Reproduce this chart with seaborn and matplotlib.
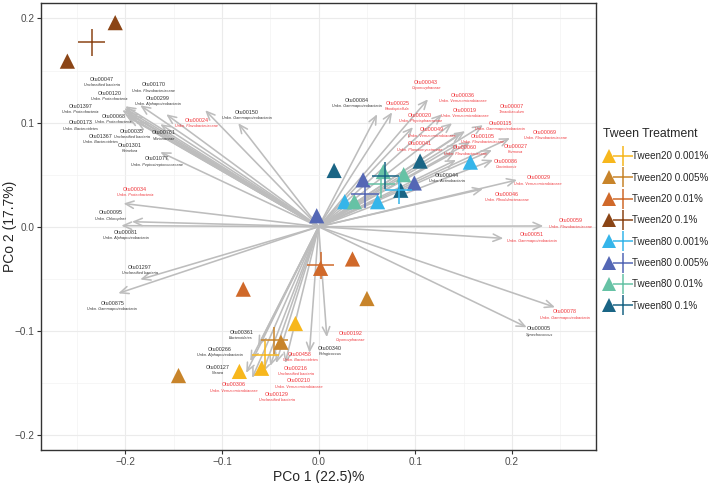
import matplotlib
matplotlib.use("Agg")
import matplotlib.pyplot as plt
from matplotlib.lines import Line2D
from matplotlib.legend_handler import HandlerTuple
from matplotlib.ticker import MultipleLocator
import seaborn as sns
import pandas as pd

# ---------------- data ----------------
groups = ["Tween20 0.001%", "Tween20 0.005%", "Tween20 0.01%", "Tween20 0.1%",
          "Tween80 0.001%", "Tween80 0.005%", "Tween80 0.01%", "Tween80 0.1%"]
group_colors = ["#F7B71D", "#C8842A", "#D0692A", "#8B4516",
                "#35B5EA", "#5467B5", "#66C2A5", "#1A6585"]

pt_group = ["Tween20 0.001%"] * 3 + ["Tween20 0.005%"] * 3 + ["Tween20 0.01%"] * 3 + \
           ["Tween20 0.1%"] * 2 + ["Tween80 0.001%"] * 3 + ["Tween80 0.005%"] * 3 + \
           ["Tween80 0.01%"] * 3 + ["Tween80 0.1%"] * 3
pt_x = [-0.024, -0.059, -0.082,
        -0.039, -0.145, 0.050,
        0.035, -0.078, 0.002,
        -0.2105, -0.260,
        0.027, 0.061, 0.157,
        0.046, 0.099, -0.002,
        0.067, 0.088, 0.037,
        0.016, 0.105, 0.085]
pt_y = [-0.093, -0.136, -0.139,
        -0.111, -0.143, -0.069,
        -0.031, -0.060, -0.040,
        0.196, 0.159,
        0.024, 0.024, 0.062,
        0.045, 0.042, 0.0105,
        0.053, 0.050, 0.024,
        0.054, 0.063, 0.035]

cen_x = [-0.055, -0.046, 0.002, -0.235, 0.083, 0.048, 0.065, 0.069]
cen_y = [-0.123, -0.109, -0.037, 0.177, 0.035, 0.031, 0.041, 0.049]

otu_ids = ["Otu00047", "Otu00170", "Otu00120", "Otu00299", "Otu01397", "Otu00150",
           "Otu00068", "Otu00024", "Otu00173", "Otu00035", "Otu00761", "Otu01367",
           "Otu01301", "Otu01077", "Otu00034", "Otu00095", "Otu00081", "Otu01297",
           "Otu00875",
           "Otu00043", "Otu00084", "Otu00025", "Otu00020", "Otu00049", "Otu00041",
           "Otu00044", "Otu00036", "Otu00019", "Otu00007", "Otu00115", "Otu00069",
           "Otu00105", "Otu00027", "Otu00060", "Otu00086", "Otu00029", "Otu00046",
           "Otu00059", "Otu00051", "Otu00078", "Otu00005",
           "Otu00192", "Otu00340", "Otu00458", "Otu00216", "Otu00210", "Otu00129",
           "Otu00306", "Otu00127", "Otu00266", "Otu00361"]
otu_taxa = ["Unclassified bacteria", "Unkn. Flavobacteriaceae", "Unkn. Proteobacteria",
            "Unkn. Alphaproteobacteria", "Unkn. Proteobacteria", "Unkn. Gammaproteobacteria",
            "Unkn. Proteobacteria", "Unkn. Flavobacteriaceae", "Unkn. Bacteroidetes",
            "Unclassified bacteria", "Vibrionaceae", "Unkn. Bacteroidetes",
            "Reinekea", "Unkn. Peptostreptococcaceae", "Unkn. Proteobacteria",
            "Unkn. Chloroplast", "Unkn. Alphaproteobacteria", "Unclassified bacteria",
            "Unkn. Gammaproteobacteria",
            "Cryomorphaceae", "Unkn. Gammaproteobacteria", "Rhodopirellula",
            "Unkn. Phycisphaeraceae", "Unkn. Verrucomicrobiaceae", "Unkn. Planctomycetaceae",
            "Unkn. Actinobacteria", "Unkn. Verrucomicrobiaceae", "Unkn. Verrucomicrobiaceae",
            "Tenacibaculum", "Unkn. Gammaproteobacteria", "Unkn. Flavobacteriaceae",
            "Unkn. Flavobacteriaceae", "Formosa", "Unkn. Flavobacteriaceae",
            "Crocinitomix", "Unkn. Verrucomicrobiaceae", "Unkn. Rhodobacteraceae",
            "Unkn. Flavobacteriaceae", "Unkn. Gammaproteobacteria",
            "Unkn. Gammaproteobacteria", "Synechococcus",
            "Cryomorphaceae", "Pelagicoccus", "Unkn. Bacteroidetes", "Unclassified bacteria",
            "Unkn. Verrucomicrobiaceae", "Unclassified bacteria", "Unkn. Verrucomicrobiaceae",
            "Nisaea", "Unkn. Alphaproteobacteria", "Bacteroidetes"]
otu_red = [0, 0, 0, 0, 0, 0, 0, 1, 0, 0, 0, 0, 0, 0, 1, 0, 0, 0, 0,
           1, 0, 1, 1, 1, 1, 0, 1, 1, 1, 1, 1, 1, 1, 1, 1, 1, 1, 1, 1, 1, 0,
           1, 0, 1, 1, 1, 1, 1, 0, 0, 0]
tip_x = [-0.2001, -0.1846, -0.2011, -0.1577, -0.2032, -0.0832, -0.1980, -0.1174,
         -0.2001, -0.1939, -0.1639, -0.1970, -0.1887, -0.1639, -0.2019, -0.2042,
         -0.1932, -0.1846, -0.2073,
         0.1132, 0.0605, 0.0760, 0.0977, 0.1474, 0.1443, 0.1422, 0.1277, 0.1381,
         0.1701, 0.1515, 0.1980, 0.1567, 0.1794, 0.1412, 0.1805, 0.2053, 0.1701,
         0.2325, 0.1911, 0.2446, 0.2153,
         0.0085, -0.0095, -0.0346, -0.0440, -0.0502, -0.0584, -0.0688, -0.0750,
         -0.0708, -0.0626]
tip_y = [0.1157, 0.1166, 0.1138, 0.1080, 0.1119, 0.0994, 0.1099, 0.1119,
         0.1080, 0.1071, 0.0985, 0.1052, 0.1013, 0.0717, 0.0223, 0.0010,
         0.0048, -0.0507, -0.0640,
         0.1224, 0.1080, 0.1099, 0.0956, 0.0899, 0.0793, 0.0641, 0.1080, 0.0994,
         0.0975, 0.0918, 0.0851, 0.0813, 0.0736, 0.0717, 0.0641, 0.0449, 0.0363,
         0.0007, -0.0112, -0.0774, -0.0966,
         -0.1061, -0.1211, -0.1310, -0.1310, -0.1338, -0.1405, -0.1453, -0.1405,
         -0.1291, -0.1147]
lab_x = [-0.2242, -0.1708, -0.2163, -0.1663, -0.2466, -0.0742, -0.2122, -0.1260,
         -0.2466, -0.1932, -0.1605, -0.2260, -0.1957, -0.1673, -0.1898, -0.2156,
         -0.1994, -0.1853, -0.2135,
         0.1112, 0.0395, 0.0815, 0.1050, 0.1171, 0.1050, 0.1326, 0.1494, 0.1515,
         0.1998, 0.1877, 0.2342, 0.1698, 0.2039, 0.1515, 0.1939, 0.2273, 0.1946,
         0.2608, 0.2205, 0.2549, 0.2283,
         0.0333, 0.0119, -0.0191, -0.0236, -0.0209, -0.0432, -0.0881, -0.1047,
         -0.1019, -0.0801]
lab_y = [0.1418, 0.1364, 0.1281, 0.1233, 0.1154, 0.1099, 0.1061, 0.1020,
         0.0997, 0.0918, 0.0902, 0.0870, 0.0781, 0.0653, 0.0360, 0.0134,
         -0.0054, -0.0392, -0.0736,
         0.1386, 0.1211, 0.1185, 0.1068, 0.0930, 0.0796, 0.0494, 0.1259, 0.1116,
         0.1154, 0.0994, 0.0908, 0.0867, 0.0774, 0.0758, 0.0631, 0.0468, 0.0309,
         0.0057, -0.0079, -0.0819, -0.0982,
         -0.1030, -0.1169, -0.1227, -0.1360, -0.1482, -0.1609, -0.1520, -0.1348,
         -0.1179, -0.1013]

x_ticks = [-0.2, -0.1, 0.0, 0.1, 0.2]
y_ticks = [-0.2, -0.1, 0.0, 0.1, 0.2]

# ---------------- plot ----------------
sns.set_theme(style="whitegrid")
plt.rcParams["font.family"] = ["Liberation Sans", "DejaVu Sans"]

fig = plt.figure(figsize=(7.08, 4.83), dpi=100)
ax = fig.add_axes([0.0583, 0.0683, 0.7835, 0.9247])

palette = dict(zip(groups, group_colors))
arrow_col = "#BDBDBD"

for i in range(len(otu_ids)):
    ax.annotate("", xy=(tip_x[i], tip_y[i]), xytext=(0, 0),
                arrowprops=dict(arrowstyle="->,head_length=0.5,head_width=0.22",
                                color=arrow_col, lw=1.15, shrinkA=0, shrinkB=0),
                zorder=1)

for i in range(len(otu_ids)):
    c = "#F0353A" if otu_red[i] else "#333333"
    ax.text(lab_x[i], lab_y[i], otu_ids[i], fontsize=3.9, color=c,
            ha="center", va="center", zorder=3)
    ax.text(lab_x[i], lab_y[i] - 0.0056, otu_taxa[i], fontsize=2.8, color=c,
            ha="center", va="center", style="italic", zorder=3)

df = pd.DataFrame({"x": pt_x, "y": pt_y, "g": pt_group})
sns.scatterplot(data=df, x="x", y="y", hue="g", hue_order=groups, palette=palette,
                marker="^", s=120, linewidth=0, ax=ax, legend=False, zorder=4)

cdf = pd.DataFrame({"x": cen_x, "y": cen_y, "g": groups})
sns.scatterplot(data=cdf, x="x", y="y", hue="g", hue_order=groups, palette=palette,
                marker="+", s=380, linewidth=1.1, ax=ax, legend=False, zorder=5)

ax.set_xlim(-0.287, 0.287)
ax.set_ylim(-0.2145, 0.2145)
ax.set_xticks(x_ticks)
ax.set_yticks(y_ticks)
ax.xaxis.set_minor_locator(MultipleLocator(0.05))
ax.yaxis.set_minor_locator(MultipleLocator(0.05))
ax.grid(which="major", color="#EBEBEB", lw=0.8)
ax.grid(which="minor", color="#F3F3F3", lw=0.5)
ax.set_facecolor("white")
for s in ax.spines.values():
    s.set_color("#333333")
    s.set_linewidth(1.0)
ax.tick_params(axis="both", which="major", labelsize=7.2, labelcolor="#4D4D4D",
               length=3, color="#333333", width=0.8, pad=2, left=True, bottom=True)
ax.set_xlabel("PCo 1 (22.5)%", fontsize=10, labelpad=2)
ax.set_ylabel("PCo 2 (17.7%)", fontsize=10)
ax.yaxis.set_label_coords(-0.043, 0.5)

handles = [(Line2D([], [], marker="^", ls="", color=c, markersize=10, markeredgewidth=0),
            Line2D([], [], marker="+", ls="", color=c, markersize=15, markeredgewidth=1.1))
           for c in group_colors]
leg = fig.legend(handles, groups, title="Tween Treatment", loc="upper left",
                 bbox_to_anchor=(0.851, 0.735), frameon=False, fontsize=7.1,
                 title_fontsize=8.8, handler_map={tuple: HandlerTuple(ndivide=None)},
                 labelspacing=1.15, handlelength=2.8, handletextpad=0.15,
                 borderaxespad=0, borderpad=0)
leg._legend_box.align = "left"

fig.savefig("out.png", dpi=100)
